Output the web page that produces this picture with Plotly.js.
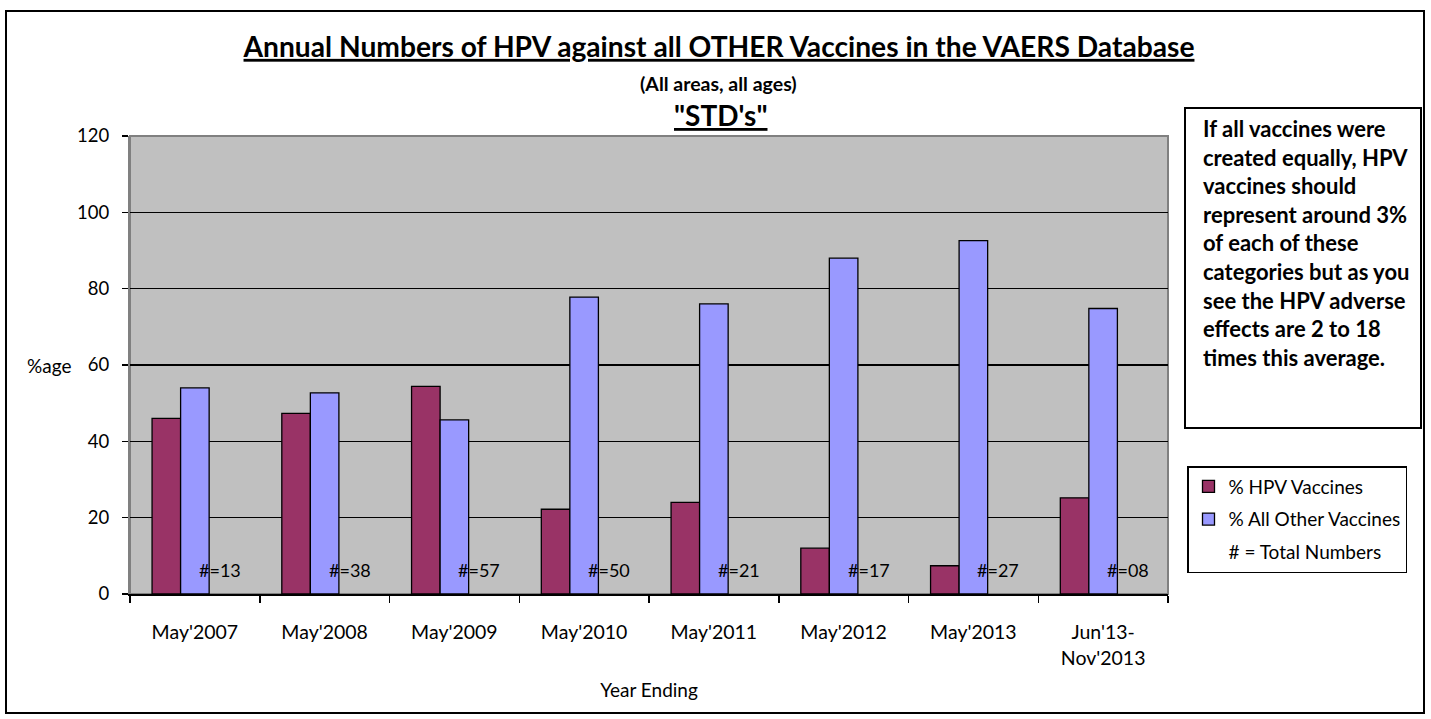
<!DOCTYPE html>
<html>
<head>
<meta charset="utf-8">
<script src="https://cdn.plot.ly/plotly-3.0.1.min.js"></script>
<style>
  html, body { margin: 0; padding: 0; background: #ffffff; }
  #chart { width: 1431px; height: 719px; }
</style>
</head>
<body>
<div id="chart"></div>
<script>
const categories = ["May'2007", "May'2008", "May'2009", "May'2010", "May'2011", "May'2012", "May'2013", "Jun'13-<br>Nov'2013"];
const hpvPercent = [46, 47.3, 54.4, 22.2, 24, 12, 7.4, 25.2];
const otherPercent = [54, 52.7, 45.6, 77.8, 76, 88, 92.6, 74.8];
const totalLabels = ["#=13", "#=38", "#=57", "#=50", "#=21", "#=17", "#=27", "#=08"];
const seriesNames = ["% HPV Vaccines", "% All Other Vaccines", "# = Total Numbers"];
const yTicks = [0, 20, 40, 60, 80, 100, 120];

const titleText = "Annual Numbers of HPV against all OTHER Vaccines in the VAERS Database";
const subtitleText = "(All areas, all ages)";
const categoryText = "\"STD's\"";
const noteLines = [
  "If all vaccines were",
  "created equally, HPV",
  "vaccines should",
  "represent around 3%",
  "of each of these",
  "categories but as you",
  "see the HPV adverse",
  "effects are 2 to 18",
  "times this average."
];

const FONT = "Lato, 'Open Sans', 'DejaVu Sans', sans-serif";

// plot-area geometry in pixels (for paper-coordinate conversions)
const W = 1431, H = 719;
const L = 130, R = 263, T = 136, B = 125;
const pw = W - L - R, ph = H - T - B;
const px = v => (v - L) / pw;
const py = v => (H - B - v) / ph;

const traces = [
  {
    type: 'bar', name: seriesNames[0], x: categories, y: hpvPercent,
    marker: { color: '#993366', line: { color: '#000000', width: 1.3 } },
    legendgroup: 'a', hoverinfo: 'x+y'
  },
  {
    type: 'bar', name: seriesNames[1], x: categories, y: otherPercent,
    marker: { color: '#9999FF', line: { color: '#000000', width: 1.3 } },
    legendgroup: 'b', hoverinfo: 'x+y'
  },
  {
    type: 'bar', name: seriesNames[2], x: categories, y: categories.map(() => 0),
    marker: { color: 'rgba(0,0,0,0)', line: { color: 'rgba(0,0,0,0)', width: 0 } },
    legendgroup: 'c', hoverinfo: 'skip'
  }
];

const annotations = [];
totalLabels.forEach((t, i) => {
  annotations.push({
    text: t, x: i, y: 0, xref: 'x', yref: 'y',
    xanchor: 'center', yanchor: 'bottom', xshift: 25, yshift: 11,
    showarrow: false, font: { family: FONT, size: 18, color: '#000000' }
  });
});

annotations.push({
  text: '<b>' + subtitleText + '</b>', xref: 'paper', yref: 'paper',
  x: px(718), y: py(83), xanchor: 'center', yanchor: 'middle',
  showarrow: false, font: { family: FONT, size: 19.5, color: '#000000' }
});
annotations.push({
  text: '<b><u>' + categoryText + '</u></b>', xref: 'paper', yref: 'paper',
  x: px(720), y: py(115), xanchor: 'center', yanchor: 'middle',
  showarrow: false, font: { family: FONT, size: 28, color: '#000000' }
});
annotations.push({
  text: '%age', xref: 'paper', yref: 'paper',
  x: px(49), y: py(365), xanchor: 'center', yanchor: 'middle',
  showarrow: false, font: { family: FONT, size: 19, color: '#000000' }
});
annotations.push({
  text: noteLines.join('<br>'),
  xref: 'paper', yref: 'paper',
  x: px(1201), y: py(113), xanchor: 'left', yanchor: 'top',
  align: 'left', showarrow: false,
  font: { family: FONT, size: 22, color: '#000000', weight: 'bold' }
});

const shapes = [
  // outer chart frame
  { type: 'rect', xref: 'paper', yref: 'paper', x0: px(6), x1: px(1424), y0: py(713), y1: py(11),
    line: { color: '#000000', width: 2 }, fillcolor: 'rgba(0,0,0,0)', layer: 'above' },
  // note box
  { type: 'rect', xref: 'paper', yref: 'paper', x0: px(1185), x1: px(1421), y0: py(428), y1: py(108),
    line: { color: '#000000', width: 2 }, fillcolor: '#ffffff', layer: 'above' },
  // plot area border
  { type: 'rect', xref: 'paper', yref: 'paper', x0: 0, x1: 1, y0: 0, y1: 1,
    line: { color: '#808080', width: 2 }, fillcolor: 'rgba(0,0,0,0)', layer: 'below' }
];

const layout = {
  width: W, height: H,
  margin: { l: L, r: R, t: T, b: B, pad: 0 },
  paper_bgcolor: '#ffffff', plot_bgcolor: '#C0C0C0',
  font: { family: FONT, size: 18, color: '#000000' },
  title: {
    text: '<b><u>' + titleText + '</u></b>',
    x: 719 / W, xref: 'container', xanchor: 'center',
    y: 1 - 47 / H, yref: 'container', yanchor: 'middle',
    font: { family: FONT, size: 28.2, color: '#000000' }
  },
  barmode: 'group', bargap: 0.34, bargroupgap: 0,
  showlegend: true,
  legend: {
    x: px(1187), y: py(466), xanchor: 'left', yanchor: 'top',
    bgcolor: '#ffffff', bordercolor: '#000000', borderwidth: 1.5,
    font: { family: FONT, size: 19, color: '#000000' },
    traceorder: 'grouped', tracegroupgap: 5, itemwidth: 30
  },
  xaxis: {
    type: 'category', automargin: false,
    showline: true, linecolor: '#000000', linewidth: 2,
    ticks: 'outside', ticklen: 7, tickcolor: '#000000', tickwidth: 1.5,
    tickson: 'boundaries', showgrid: false,
    tickfont: { family: FONT, size: 19.5, color: '#000000' },
    ticklabelstandoff: 20,
    title: { text: 'Year Ending', font: { family: FONT, size: 19, color: '#000000' }, standoff: 16 }
  },
  yaxis: {
    range: [0, 120], tickvals: yTicks, automargin: false,
    showline: true, linecolor: '#808080', linewidth: 2,
    ticks: 'outside', ticklen: 6, tickcolor: '#000000', tickwidth: 1.5,
    showgrid: true, gridcolor: '#000000', gridwidth: 1.3, zeroline: false,
    tickfont: { family: FONT, size: 18.5, color: '#000000' },
    ticklabelstandoff: 9
  },
  annotations: annotations,
  shapes: shapes
};

Plotly.newPlot('chart', traces, layout, { displayModeBar: false, staticPlot: true });
</script>
</body>
</html>
